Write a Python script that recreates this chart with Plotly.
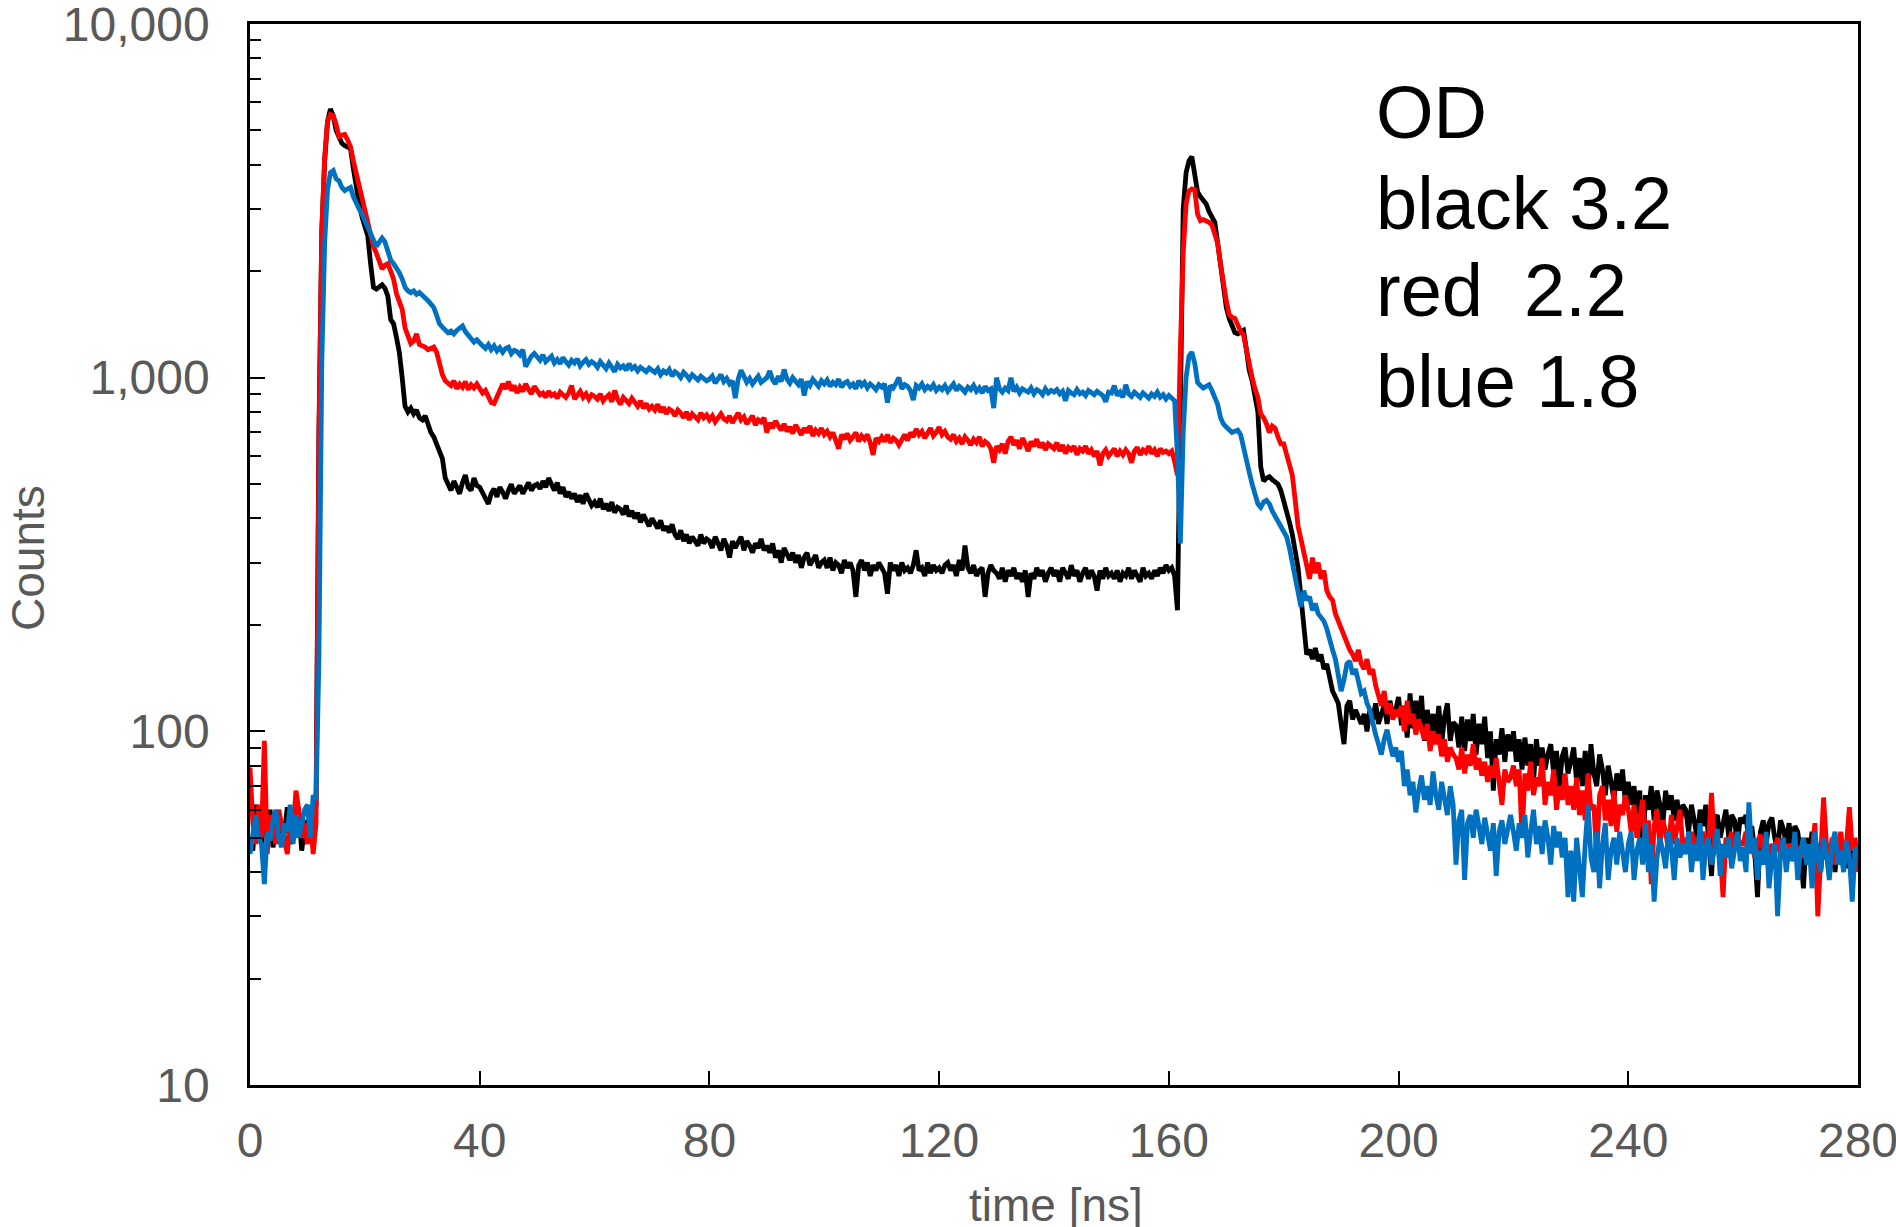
import numpy as np
import plotly.graph_objects as go

# time step of the recorded traces [ns]
time_step = 0.5

# Counts, OD 3.2 (black)
black_counts = [
    50, 46, 62, 55, 48, 57, 51, 60, 47, 53, 58, 49, 52, 61, 48, 55, 50, 59, 46, 53,
    56, 49, 54, 62, 700, 2600, 4100, 5300, 5750, 5500, 5000, 4750, 4600, 4530, 4480, 4450, 3900, 3450, 3100, 2850,
    2650, 2520, 2100, 1800, 1780, 1800, 1830, 1790, 1700, 1460, 1420, 1300, 1180, 1000, 830, 800, 820, 790, 810, 770,
    760, 780, 740, 700, 680, 650, 630, 590, 520, 500, 480, 510, 485, 470, 505, 530, 490, 480, 520, 495,
    490, 470, 455, 440, 470, 485, 460, 490, 475, 455, 480, 500, 470, 485, 495, 470, 488, 505, 480, 495,
    500, 485, 510, 490, 520, 495, 480, 505, 470, 490, 460, 475, 455, 470, 445, 465, 440, 470, 450, 435,
    445, 430, 455, 425, 440, 420, 445, 415, 430, 425, 410, 435, 405, 420, 400, 415, 390, 410, 395, 380,
    400, 385, 375, 395, 370, 380, 365, 385, 360, 350, 370, 345, 360, 340, 355, 345, 335, 360, 340, 350,
    345, 330, 355, 340, 325, 350, 335, 310, 345, 330, 340, 355, 325, 345, 335, 320, 340, 330, 350, 325,
    335, 320, 340, 310, 325, 300, 330, 315, 305, 320, 300, 315, 290, 310, 320, 295, 305, 315, 290, 300,
    305, 290, 310, 285, 300, 295, 280, 305, 290, 300, 285, 240, 295, 305, 285, 300, 275, 295, 285, 300,
    290, 280, 245, 300, 285, 295, 275, 300, 285, 290, 280, 295, 325, 285, 290, 275, 300, 280, 295, 285,
    290, 280, 295, 300, 285, 295, 275, 305, 285, 335, 290, 280, 295, 275, 285, 290, 240, 280, 295, 285,
    280, 270, 290, 265, 285, 275, 290, 270, 280, 265, 285, 240, 280, 270, 290, 275, 285, 265, 280, 290,
    275, 285, 265, 290, 280, 270, 295, 275, 285, 265, 280, 290, 270, 285, 275, 250, 285, 270, 290, 275,
    280, 270, 285, 265, 280, 275, 290, 270, 285, 275, 265, 290, 275, 280, 270, 285, 275, 290, 280, 295,
    285, 290, 275, 220, 1000, 3000, 3800, 4100, 4220, 3800, 3350, 3250, 3170, 3100, 2950, 2850, 2750, 2400, 2050, 1800,
    1580, 1470, 1400, 1340, 1330, 1350, 1360, 1200, 1050, 980, 900, 800, 560, 510, 520, 525, 515, 505, 500, 480,
    450, 420, 390, 360, 320, 290, 240, 200, 165, 170, 160, 172, 158, 165, 150, 155, 140, 130, 125, 120,
    105, 92, 118, 122, 108, 115, 110, 105, 112, 100, 115, 108, 120, 105, 112, 118, 105, 122, 110, 115,
    125, 104, 118, 96, 128, 102, 122, 106, 126, 94, 115, 100, 112, 96, 118, 92, 110, 120, 94, 106,
    104, 90, 110, 88, 108, 94, 112, 86, 105, 92, 110, 84, 100, 68, 95, 86, 102, 82, 98, 88,
    100, 82, 95, 78, 96, 80, 92, 72, 95, 80, 90, 78, 86, 92, 76, 88, 70, 85, 90, 76,
    82, 90, 72, 84, 70, 88, 68, 92, 76, 70, 86, 78, 66, 80, 72, 64, 76, 68, 78, 62,
    72, 62, 70, 58, 68, 44, 66, 60, 70, 56, 68, 62, 54, 68, 60, 66, 56, 64, 54, 62,
    60, 52, 62, 56, 50, 60, 54, 62, 48, 39, 56, 58, 50, 55, 60, 50, 58, 56, 48, 57,
    55, 58, 48, 54, 46, 34, 52, 56, 48, 55, 57, 50, 46, 56, 53, 48, 55, 46, 54, 52,
    45, 36, 50, 44, 52, 42, 48, 40, 50, 44, 42, 48, 40, 50, 43, 47, 41, 49, 42, 46,
    44,
]

# Counts, OD 2.2 (red)
red_counts = [
    79, 55, 48, 62, 50, 94, 45, 58, 52, 48, 60, 55, 50, 45, 57, 52, 68, 60, 50, 55,
    48, 58, 45, 55, 650, 2600, 4200, 5300, 5550, 5500, 5200, 4800, 4850, 4870, 4700, 4500, 4100, 3800, 3500, 3200,
    2950, 2770, 2600, 2350, 2250, 2150, 2030, 2080, 2100, 2000, 1900, 1730, 1640, 1560, 1380, 1300, 1250, 1270, 1330, 1240,
    1230, 1220, 1200, 1215, 1220, 1180, 1080, 1020, 980, 965, 950, 980, 930, 960, 940, 975, 925, 955, 935, 960,
    935, 905, 920, 880, 850, 845, 880, 910, 960, 930, 975, 920, 950, 905, 940, 915, 960, 925, 900, 945,
    920, 895, 905, 880, 915, 890, 900, 875, 910, 895, 880, 905, 950, 870, 895, 915, 880, 900, 870, 895,
    885, 870, 900, 860, 880, 895, 855, 920, 870, 840, 880, 860, 845, 875, 850, 830, 860, 820, 845, 815,
    830, 810, 840, 800, 825, 790, 815, 805, 780, 810, 795, 770, 800, 760, 790, 775, 760, 795, 770, 785,
    760, 780, 750, 770, 790, 765, 755, 780, 745, 770, 795, 760, 775, 740, 765, 780, 735, 760, 750, 770,
    700, 745, 720, 755, 730, 710, 740, 705, 725, 695, 735, 710, 690, 720, 700, 730, 685, 710, 695, 720,
    690, 705, 680, 700, 660, 630, 690, 670, 695, 665, 680, 700, 660, 685, 670, 690, 655, 605, 675, 660,
    680, 660, 690, 655, 675, 665, 645, 670, 690, 665, 700, 680, 715, 690, 705, 675, 695, 720, 685, 700,
    725, 690, 705, 680, 670, 690, 660, 675, 650, 680, 665, 645, 670, 655, 680, 640, 660, 650, 630, 575,
    640, 625, 650, 610, 660, 680, 645, 665, 630, 675, 650, 620, 660, 640, 670, 635, 655, 625, 650, 640,
    630, 655, 620, 645, 610, 635, 625, 640, 605, 630, 620, 640, 610, 625, 600, 620, 565, 610, 625, 600,
    615, 630, 600, 620, 605, 625, 610, 575, 620, 635, 605, 625, 615, 640, 610, 625, 600, 630, 615, 620,
    610, 620, 580, 530, 1200, 2250, 3100, 3370, 3420, 3400, 2900, 2780, 2800, 2780, 2750, 2700, 2550, 2400, 2100, 1830,
    1650, 1510, 1480, 1470, 1400, 1350, 1320, 1200, 1080, 1000, 930, 880, 790, 770, 740, 700, 730, 720, 680, 650,
    650, 610, 560, 530, 450, 380, 350, 320, 300, 270, 310, 280, 300, 270, 285, 250, 240, 235, 215, 205,
    195, 185, 178, 170, 165, 158, 170, 155, 150, 160, 145, 150, 135, 125, 118, 130, 112, 120, 108, 115,
    110, 118, 100, 122, 105, 112, 98, 108, 102, 95, 105, 88, 100, 92, 98, 85, 95, 82, 90, 86,
    84, 78, 90, 76, 86, 80, 92, 78, 84, 75, 82, 72, 80, 74, 84, 70, 62, 78, 72, 74,
    80, 70, 78, 50, 76, 68, 82, 66, 74, 70, 84, 62, 72, 66, 78, 60, 70, 64, 76, 62,
    70, 60, 74, 58, 68, 56, 76, 60, 62, 44, 66, 70, 56, 64, 54, 68, 52, 62, 58, 66,
    60, 52, 62, 50, 58, 64, 48, 56, 37, 54, 60, 48, 56, 52, 46, 58, 48, 54, 60, 47,
    50, 46, 52, 48, 50, 45, 52, 48, 50, 67, 47, 50, 46, 34, 50, 48, 52, 46, 50, 48,
    48, 52, 46, 50, 44, 48, 51, 46, 49, 44, 48, 46, 50, 45, 47, 44, 48, 46, 43, 47,
    46, 44, 48, 42, 46, 55, 30, 44, 65, 48, 44, 50, 42, 46, 52, 44, 48, 61, 46, 50,
    40,
]

# Counts, OD 1.8 (blue)
blue_counts = [
    45, 52, 58, 50, 48, 37, 52, 49, 56, 60, 50, 47, 55, 52, 62, 48, 58, 50, 54, 60,
    62, 50, 66, 64, 160, 1100, 2400, 3400, 3800, 3850, 3650, 3600, 3450, 3380, 3420, 3450, 3250, 3100, 3000, 2900,
    2770, 2650, 2520, 2450, 2350, 2400, 2480, 2420, 2250, 2150, 2100, 2050, 1980, 1900, 1800, 1760, 1740, 1760, 1720, 1740,
    1700, 1680, 1650, 1620, 1580, 1500, 1420, 1390, 1370, 1340, 1355, 1330, 1360, 1380, 1400, 1350, 1320, 1290, 1260, 1280,
    1250, 1230, 1210, 1240, 1200, 1230, 1190, 1215, 1180, 1210, 1220, 1170, 1195, 1185, 1160, 1200, 1075, 1120, 1150, 1170,
    1140, 1120, 1160, 1110, 1130, 1150, 1100, 1125, 1095, 1140, 1110, 1085, 1120, 1100, 1130, 1080, 1105, 1125, 1090, 1110,
    1095, 1070, 1110, 1085, 1060, 1100, 1075, 1040, 1090, 1065, 1080, 1050, 1095, 1060, 1075, 1045, 1070, 1055, 1040, 1065,
    1050, 1035, 1060, 1020, 1045, 1030, 1055, 1010, 1040, 1025, 1000, 1035, 1015, 990, 1020, 1005, 985, 1010, 995, 980,
    990, 1010, 965, 1000, 1020, 975, 995, 960, 980, 875, 990, 1050, 1000, 970, 995, 960, 985, 1010, 970, 990,
    1000, 1045, 985, 960, 1010, 975, 1055, 990, 965, 1000, 980, 955, 990, 890, 975, 950, 990, 965, 945, 980,
    960, 985, 945, 970, 955, 990, 940, 965, 975, 945, 960, 930, 980, 950, 970, 935, 960, 945, 925, 955,
    940, 960, 850, 950, 935, 965, 1000, 930, 955, 945, 920, 865, 950, 935, 960, 925, 945, 930, 955, 920,
    940, 925, 950, 915, 935, 960, 920, 945, 930, 910, 940, 925, 950, 915, 935, 905, 945, 920, 930, 820,
    1000, 930, 910, 935, 920, 1000, 915, 940, 905, 930, 920, 910, 935, 900, 925, 915, 895, 930, 905, 920,
    910, 925, 900, 915, 860, 920, 905, 895, 925, 900, 910, 890, 920, 905, 895, 915, 900, 890, 855, 910,
    905, 950, 890, 910, 880, 955, 900, 885, 910, 895, 880, 905, 890, 875, 900, 885, 910, 880, 895, 870,
    890, 870, 860, 600, 340, 700, 1000, 1150, 1180, 1100, 970, 950, 935, 945, 955, 920, 880, 840, 770, 740,
    725, 710, 700, 705, 710, 690, 630, 590, 540, 500, 470, 440, 430, 445, 450, 440, 420, 405, 395, 380,
    365, 355, 330, 300, 270, 240, 225, 250, 235, 240, 220, 230, 215, 210, 205, 195, 180, 170, 160, 145,
    130, 140, 155, 158, 145, 150, 140, 128, 130, 120, 115, 105, 98, 92, 86, 95, 101, 92, 85, 90,
    82, 88, 70, 78, 66, 72, 59, 68, 75, 64, 70, 62, 77, 66, 60, 72, 65, 58, 70, 62,
    42, 56, 60, 38, 55, 58, 50, 60, 54, 48, 57, 52, 46, 55, 39, 52, 56, 48, 54, 58,
    52, 46, 55, 50, 58, 44, 52, 60, 48, 54, 45, 56, 50, 42, 54, 47, 52, 44, 50, 34,
    46, 33, 50, 42, 34, 48, 62, 44, 40, 52, 36, 48, 55, 38, 46, 50, 42, 52, 45, 40,
    48, 52, 38, 46, 50, 42, 55, 40, 48, 33, 44, 50, 46, 41, 52, 47, 38, 50, 44, 48,
    45, 52, 40, 48, 43, 55, 38, 47, 50, 42, 46, 53, 39, 48, 44, 50, 41, 46, 52, 43,
    47, 40, 63, 45, 50, 38, 46, 42, 52, 36, 44, 48, 30, 45, 50, 40, 47, 43, 52, 38,
    46, 50, 42, 48, 36, 52, 44, 40, 50, 45, 38, 48, 52, 42, 46, 40, 49, 44, 33, 47,
    45,
]

x_tick_vals = [0, 40, 80, 120, 160, 200, 240, 280]
y_tick_vals = [10, 100, 1000, 10000]
y_tick_text = ["10", "100", "1,000", "10,000"]
od_lines = ["OD", "black 3.2", "red\u00a0 2.2", "blue 1.8"]

series = [
    ("OD 3.2", black_counts, "#000000"),
    ("OD 2.2", red_counts, "#FF0000"),
    ("OD 1.8", blue_counts, "#0070C0"),
]

FONT = "Liberation Sans, Arial, sans-serif"
GRAY = "#595959"
TICK_SIZE = 48

fig = go.Figure()
for name, vals, col in series:
    t = np.arange(len(vals)) * time_step
    fig.add_trace(go.Scatter(x=t, y=vals, mode="lines", name=name,
                             line=dict(color=col, width=4.8)))

minor_vals = [m * 10 ** d for d in (1, 2, 3) for m in range(2, 10)]

fig.update_layout(
    width=1896, height=1227,
    margin=dict(l=250, r=38, t=24, b=142, autoexpand=False),
    paper_bgcolor="white", plot_bgcolor="white",
    showlegend=False,
    font=dict(family=FONT, size=46, color=GRAY),
)
fig.update_xaxes(
    range=[0, 280], tickvals=x_tick_vals, ticks="inside", ticklen=14, tickwidth=2,
    tickcolor="black", showline=True, linecolor="black", linewidth=2.5, mirror=True,
    showgrid=False, zeroline=False, tickfont=dict(family=FONT, size=TICK_SIZE, color=GRAY),
    ticklabelstandoff=12, ticklabeloverflow="allow", automargin=False,
)
fig.update_yaxes(
    type="log", range=[1, 4], tickvals=y_tick_vals, ticktext=y_tick_text,
    ticks="inside", ticklen=15, tickwidth=2, tickcolor="black",
    minor=dict(tickvals=minor_vals, ticks="inside", ticklen=11, tickwidth=2,
               tickcolor="black", showgrid=False),
    showline=True, linecolor="black", linewidth=2.5, mirror=True,
    showgrid=False, zeroline=False, tickfont=dict(family=FONT, size=TICK_SIZE, color=GRAY),
    ticklabelstandoff=28, ticklabeloverflow="allow", automargin=False,
)

# axis titles
fig.add_annotation(text="time [ns]", xref="paper", yref="paper", x=0.501, y=-0.113,
                   xanchor="center", yanchor="middle", showarrow=False,
                   font=dict(family=FONT, size=46, color=GRAY))
fig.add_annotation(text="Counts", xref="paper", yref="paper", x=-0.1385, y=0.497,
                   xanchor="center", yanchor="middle", textangle=-90, showarrow=False,
                   font=dict(family=FONT, size=46, color=GRAY))

# OD legend text
od_y = [0.917, 0.831, 0.749, 0.663]
for txt, yy in zip(od_lines, od_y):
    fig.add_annotation(text=txt, xref="paper", yref="paper", x=0.699, y=yy,
                       xanchor="left", yanchor="middle", showarrow=False,
                       font=dict(family=FONT, size=74, color="black"))

fig.write_html("out.html")
